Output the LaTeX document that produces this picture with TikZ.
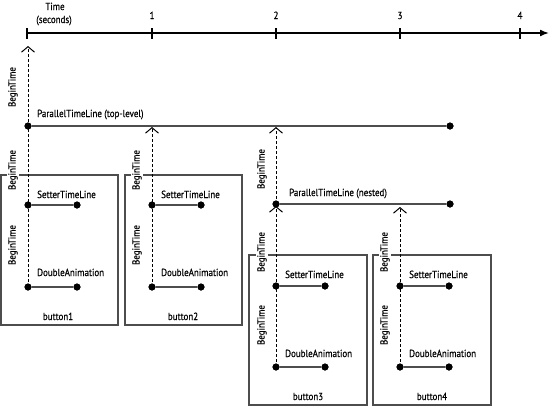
\documentclass[tikz,border=0pt]{standalone}
\usepackage{fontspec}
\setmainfont{PT Sans}[FakeStretch=0.87,FakeBold=0.4]
\usetikzlibrary{arrows.meta}
\definecolor{lg}{HTML}{4d4d4d}
\tikzset{
  x=1pt,y=-1pt,
  every node/.style={font=\fontsize{10.3}{12}\selectfont, inner sep=0pt},
  dot/.style={circle, fill=black, minimum size=7pt, inner sep=0pt},
  tline/.style={draw=lg, line width=1.3pt},
  beg/.style={draw=black, line width=1pt, dash pattern=on 3pt off 2pt},
  chev/.style={-{Straight Barb[length=5.5pt,width=13pt,line width=1pt]}},
  btime/.style={rotate=90, fill=white, inner sep=1pt},
  tlabel/.style={anchor=base west},
  box/.style={draw=lg, line width=1.1pt, inner sep=0pt},
  tick/.style={line width=1.5pt}
}
\begin{document}
\begin{tikzpicture}
\useasboundingbox (0,0) rectangle (550,407);
% axis
\coordinate (a0) at (27,33);
\coordinate (aend) at (549,33);
\draw[line width=1.5pt, -{Latex[length=9pt,width=7pt]}] (a0) -- (aend);
\foreach \x/\n in {27/0,152/1,276/2,400/3,520/4}{
  \coordinate (t\n) at (\x,33);
  \draw[tick] (\x,28) -- (\x,39);
}
\foreach \x/\n in {152/1,276/2,400/3,520/4}{
  \node[anchor=base] (tl\n) at (\x,19) {\n};
}
\node[anchor=base] (timelbl) at (55,10) {Time};
\node[anchor=base] (seclbl) at (54,23) {(seconds)};

% boxes
\node[box, minimum width=117pt, minimum height=150pt] (b1) at (59.5,250) {};
\node[box, minimum width=117pt, minimum height=150pt] (b2) at (183.5,250) {};
\node[box, minimum width=118pt, minimum height=150pt] (b3) at (308,330) {};
\node[box, minimum width=118pt, minimum height=150pt] (b4) at (432,330) {};
\node[anchor=base] (bl1) at (58,320) {button1};
\node[anchor=base] (bl2) at (183,320) {button2};
\node[anchor=base] (bl3) at (308,400) {button3};
\node[anchor=base] (bl4) at (432,400) {button4};

% dots
\node[dot] (p1) at (28,126) {};
\node[dot] (p2) at (450,126) {};
\node[dot] (s1a) at (28,205) {};
\node[dot] (s1b) at (77,205) {};
\node[dot] (d1a) at (28,287) {};
\node[dot] (d1b) at (77,287) {};
\node[dot] (s2a) at (152,205) {};
\node[dot] (s2b) at (201,205) {};
\node[dot] (d2a) at (152,287) {};
\node[dot] (d2b) at (201,287) {};
\node[dot] (n1) at (276,204) {};
\node[dot] (n2) at (450,204) {};
\node[dot] (s3a) at (276,286) {};
\node[dot] (s3b) at (325,286) {};
\node[dot] (d3a) at (276,367) {};
\node[dot] (d3b) at (325,367) {};
\node[dot] (s4a) at (400,286) {};
\node[dot] (s4b) at (449,286) {};
\node[dot] (d4a) at (400,367) {};
\node[dot] (d4b) at (449,367) {};

% chevron points
\coordinate (c1) at (28,46);
\coordinate (c2) at (152,127);
\coordinate (c3) at (276,127);
\coordinate (c3b) at (276,206);
\coordinate (c4) at (400,207);

% dashed begin lines
\draw[beg, chev] (d1a.center) -- (c1);
\draw[beg, chev] (d2a.center) -- (c2);
\draw[beg, chev] (n1.center) -- (c3);
\draw[beg, chev] (d3a.center) -- (c3b);
\draw[beg, chev] (d4a.center) -- (c4);

% timelines
\draw[tline] (p1) -- (p2);
\draw[tline] (s1a) -- (s1b);
\draw[tline] (d1a) -- (d1b);
\draw[tline] (s2a) -- (s2b);
\draw[tline] (d2a) -- (d2b);
\draw[tline] (n1) -- (n2);
\draw[tline] (s3a) -- (s3b);
\draw[tline] (d3a) -- (d3b);
\draw[tline] (s4a) -- (s4b);
\draw[tline] (d4a) -- (d4b);
% redraw dots on top
\foreach \d in {p1,p2,s1a,s1b,d1a,d1b,s2a,s2b,d2a,d2b,n1,n2,s3a,s3b,d3a,d3b,s4a,s4b,d4a,d4b}{
  \fill (\d.center) circle (3.5pt);
}

% labels
\node[tlabel] (lp) at (37,117) {ParallelTimeLine (top-level)};
\node[tlabel] (ln) at (289,196) {ParallelTimeLine (nested)};
\node[tlabel] (ls1) at (37,198) {SetterTimeLine};
\node[tlabel] (ld1) at (37,276) {DoubleAnimation};
\node[tlabel] (ls2) at (161,198) {SetterTimeLine};
\node[tlabel] (ld2) at (161,276) {DoubleAnimation};
\node[tlabel] (ls3) at (285,278) {SetterTimeLine};
\node[tlabel] (ld3) at (285,357) {DoubleAnimation};
\node[tlabel] (ls4) at (409,278) {SetterTimeLine};
\node[tlabel] (ld4) at (409,357) {DoubleAnimation};

% BeginTime labels
\node[btime] (bt0) at (13,87) {BeginTime};
\node[btime] (bt1) at (13,170) {BeginTime};
\node[btime] (bt2) at (13,245) {BeginTime};
\node[btime] (bt3) at (137,170) {BeginTime};
\node[btime] (bt4) at (137,245) {BeginTime};
\node[btime] (bt5) at (262,169) {BeginTime};
\node[btime] (bt6) at (262,252) {BeginTime};
\node[btime] (bt7) at (262,325) {BeginTime};
\node[btime] (bt8) at (385,252) {BeginTime};
\node[btime] (bt9) at (385,325) {BeginTime};
\end{tikzpicture}
\end{document}
